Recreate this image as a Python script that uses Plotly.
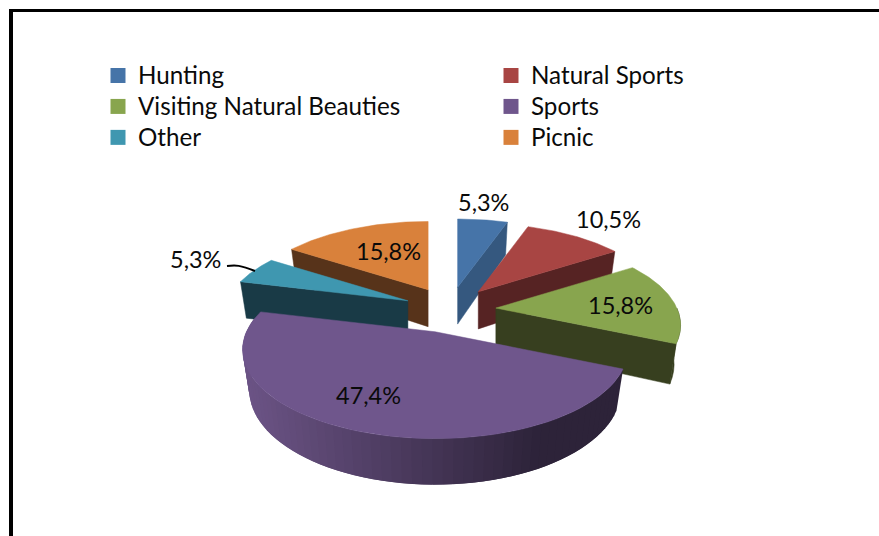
import math
import plotly.graph_objects as go

categories = ["Hunting", "Natural Sports", "Visiting Natural Beauties", "Sports", "Other", "Picnic"]
values = [5.3, 10.5, 15.8, 47.4, 5.3, 15.8]
top_colors = ["#4674a8", "#a84543", "#88a54e", "#6f568c", "#3f97b0", "#d9813b"]
wall_colors = ["#35587f", "#562323", "#373f1f", "#2d2339", "#193a46", "#57331a"]

W, H = 879, 536
CX, CY = 450, 310          # pie centre on the canvas
RX, RY = 181, 82           # radii of the tilted disc
PERSP = 0.2                # back of the disc shrinks
NEAR_GROW = 0.045          # slices pulled towards the viewer look larger
PULL_X, PULL_Y = 46, 23    # explosion distance
TAPER = 0.965              # lower edge of the wall is narrower
LABEL_POS = [(483, 202), (608, 219), (620, 305), (368, 395), (195, 259), (388, 251)]
DRAW_ORDER = [0, 5, 1, 4, 2, 3]
LEGEND_FONT, LEGEND_ROW_FONT = 24.2, 21.5

total = sum(values)
bounds, acc = [], 0.0
for v in values:
    bounds.append((acc / total * 2 * math.pi, (acc + v) / total * 2 * math.pi))
    acc += v


def rim(t, grow=1.0):
    u, w = math.sin(t), math.cos(t)
    s = grow / (1 + PERSP * w)
    return RX * u * s, -RY * w * s


def arc(a, b, grow, n=60):
    return [rim(a + (b - a) * i / n, grow) for i in range(n + 1)]


def depth(y):
    return 37 + (y - 291) * 9 / 147


def lower(p, ax):
    return (ax + (p[0] - ax) * TAPER, p[1] + depth(p[1]))


def lerp_color(c1, c2, f):
    a = [int(c1[i:i + 2], 16) for i in (1, 3, 5)]
    b = [int(c2[i:i + 2], 16) for i in (1, 3, 5)]
    return "#" + "".join(f"{round(p + (q - p) * f):02x}" for p, q in zip(a, b))


fig = go.Figure()


def poly(points, color, width=0.5):
    fig.add_trace(go.Scatter(
        x=[p[0] for p in points] + [points[0][0]],
        y=[p[1] for p in points] + [points[0][1]],
        mode="lines", fill="toself", fillcolor=color,
        line=dict(color=color, width=width),
        hoverinfo="skip", showlegend=False))


for i in DRAW_ORDER:
    a, b = bounds[i]
    mid = (a + b) / 2
    grow = 1 + NEAR_GROW * max(0.0, -math.cos(mid))
    ax = CX + PULL_X * math.sin(mid)
    ay = CY - PULL_Y * math.cos(mid)
    shift = lambda p: (ax + p[0], ay + p[1])
    big = categories[i] == "Sports"

    # radial cut face turned towards the viewer
    if not big:
        edge = b if mid < math.pi else a
        r = shift(rim(edge, grow))
        poly([(ax, ay), r, lower(r, ax), lower((ax, ay), ax)], wall_colors[i])

    # outer rim wall (front half only)
    fa, fb = max(a, math.pi / 2), min(b, 3 * math.pi / 2 + 0.15)
    if fb > fa:
        n = 64 if big else 1
        for k in range(n):
            s0 = fa + (fb - fa) * k / n
            s1 = fa + (fb - fa) * min(n, k + 2) / n   # overlap the next strip
            pts = [shift(p) for p in arc(s0, s1, grow, 6)]
            low = [lower(p, ax) for p in reversed(pts)]
            if big:
                xm = (pts[0][0] + pts[-1][0]) / 2
                f = min(1, max(0, (xm - 245) / 290))
                poly(pts + low, lerp_color("#6b5385", wall_colors[i], f), width=0)
            else:
                poly(pts + low, wall_colors[i])

    # top face
    poly([(ax, ay)] + [shift(p) for p in arc(a, b, grow)], top_colors[i])

# legend entries
for name, color in zip(categories, top_colors):
    fig.add_trace(go.Scatter(
        x=[None], y=[None], mode="markers",
        name=f'<span style="font-size:{LEGEND_FONT}px">{name}</span>',
        marker=dict(symbol="square", size=15, color=color)))

annotations = []
for v, (lx, ly) in zip(values, LABEL_POS):
    annotations.append(dict(
        x=lx, y=ly, text=f"{v:.1f}".replace(".", ",") + "%", showarrow=False,
        xanchor="center", yanchor="middle",
        font=dict(family="Lato", size=23.5, color="#0a0a0a")))

shapes = [
    dict(type="rect", x0=9, x1=13, y0=9, y1=H, fillcolor="black", line_width=0, layer="above"),
    dict(type="rect", x0=9, x1=W, y0=9, y1=12, fillcolor="black", line_width=0, layer="above"),
    dict(type="path", path="M227,266 C236,265 240,265 255,271", line=dict(color="black", width=2)),
]

fig.update_layout(
    width=W, height=H,
    margin=dict(l=0, r=0, t=0, b=0, autoexpand=False),
    paper_bgcolor="white", plot_bgcolor="white",
    xaxis=dict(range=[0, W], visible=False, fixedrange=True),
    yaxis=dict(range=[H, 0], visible=False, fixedrange=True),
    annotations=annotations, shapes=shapes,
    legend=dict(
        orientation="h", x=98 / W, y=1 - 55 / H, xanchor="left", yanchor="top",
        entrywidth=348, entrywidthmode="pixels",
        font=dict(family="Lato", size=LEGEND_ROW_FONT, color="#0a0a0a"),
        bgcolor="rgba(0,0,0,0)"),
)
fig.write_html("out.html", config=dict(displayModeBar=False), post_script="document.body.style.margin='0';")
